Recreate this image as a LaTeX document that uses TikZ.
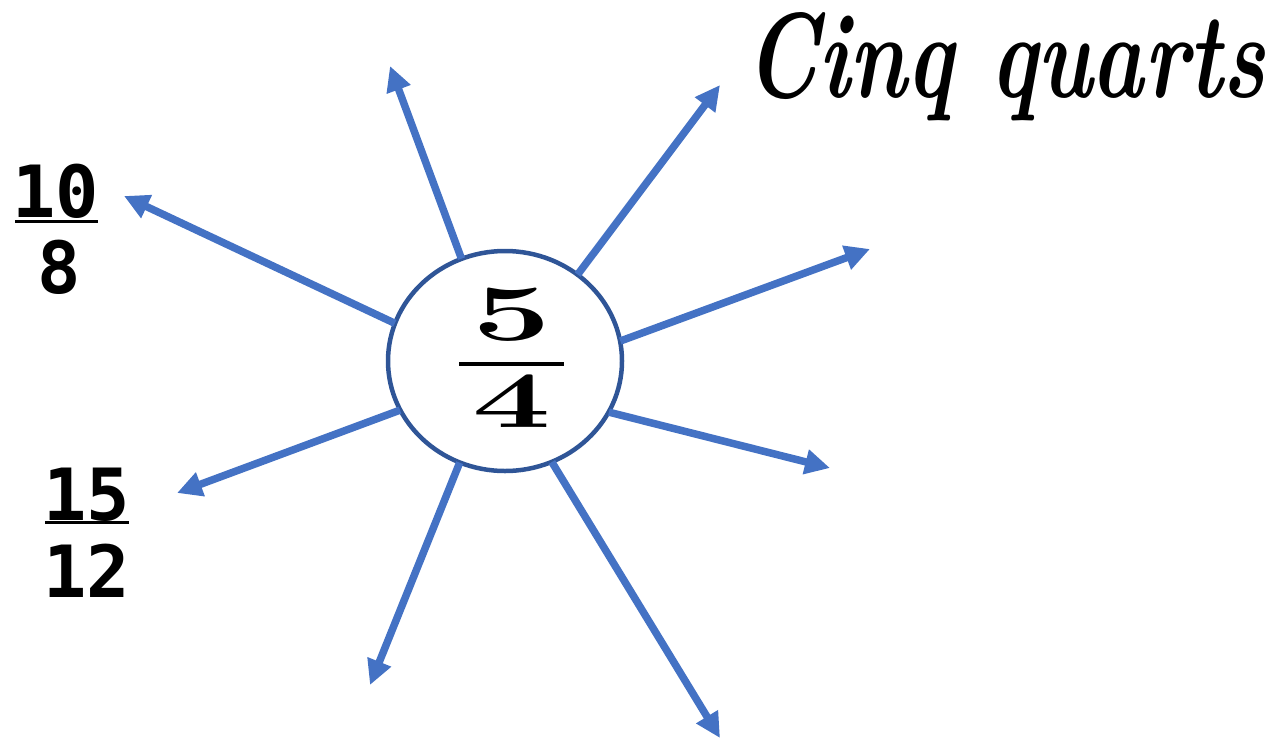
\documentclass[tikz,border=0pt]{standalone}
\usepackage{fontspec}
\usepackage{graphicx}
\usetikzlibrary{arrows.meta,shapes.geometric}
\newfontfamily\monofnt{DejaVu Sans Mono}
\definecolor{arrowblue}{HTML}{4472C4}
\definecolor{ringblue}{HTML}{2F5597}
\begin{document}
\begin{tikzpicture}[x=1pt,y=-1pt,
  ray/.style={draw=arrowblue,line width=7.5pt,-{Triangle[length=25pt,width=24pt]},shorten <=-2pt},
  monotxt/.style={font=\monofnt\bfseries\fontsize{72}{72}\selectfont,inner sep=0pt,anchor=base},
  bigdigit/.style={inner sep=0pt,anchor=base,xscale=1.75,font=\bfseries\fontsize{80}{80}\selectfont},
  barline/.style={line width=3pt,black}]
\useasboundingbox (0,0) rectangle (1282,739);
% center ellipse
\node[ellipse,draw=ringblue,line width=4.5pt,fill=white,minimum width=234pt,minimum height=220pt,inner sep=0pt] (c) at (505,361) {};
% tips
\coordinate (t1) at (390,66);
\coordinate (t2) at (720,85);
\coordinate (t3) at (870,249);
\coordinate (t4) at (830,468);
\coordinate (t5) at (720,738);
\coordinate (t6) at (370,685);
\coordinate (t7) at (177,493);
\coordinate (t8) at (124,196);
\draw[ray] (c.113.6) -- (t1);
\draw[ray] (c.50.6) -- (t2);
\draw[ray] (c.10.2) -- (t3);
\draw[ray] (c.-26.8) -- (t4);
\draw[ray] (c.-65.4) -- (t5);
\draw[ray] (c.-114.6) -- (t6);
\draw[ray] (c.205) -- (t7);
\draw[ray] (c.161) -- (t8);
% center fraction
\node[bigdigit] (n5) at (512,340) {5};
\draw[line width=4pt] (459,364) -- (564,364);
\node[bigdigit] (n4) at (512,427) {4};
% 10/8
\node[monotxt] (ten) at (56,217) {10};
\draw[barline] (15,221) -- (98,221);
\node[monotxt] (eight) at (59,293) {8};
% 15/12
\node[monotxt] (fifteen) at (87,520) {15};
\draw[barline] (45,522) -- (129,522);
\node[monotxt] (twelve) at (87,597) {12};
% handwritten label
\node[inner sep=0pt,anchor=base west,font=\bfseries\itshape\fontsize{90}{90}\selectfont] (label) at (745,97) {\resizebox{520pt}{85pt}{Cinq quarts}};
\end{tikzpicture}
\end{document}
